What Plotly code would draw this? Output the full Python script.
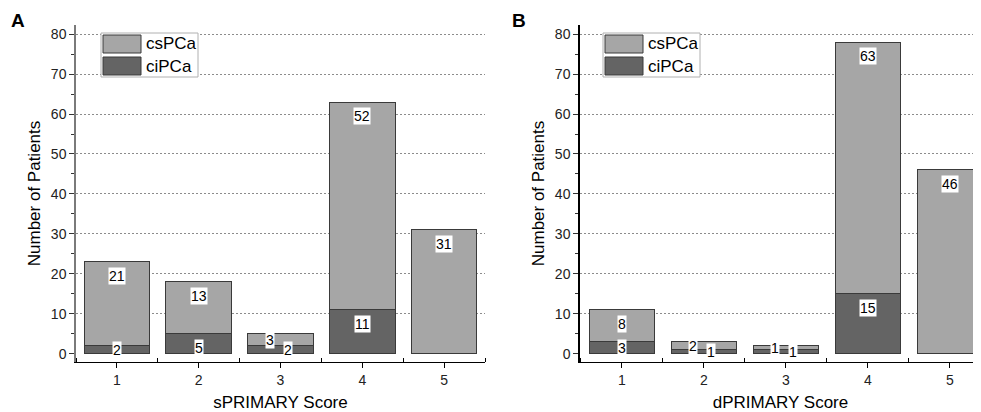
import plotly.graph_objects as go

# ---- data ----
scores = [1, 2, 3, 4, 5]
tick_labels = ["1", "2", "3", "4", "5"]
cs_A = [21, 13, 3, 52, 31]
ci_A = [2, 5, 2, 11, 0]
cs_B = [8, 2, 1, 63, 46]
ci_B = [3, 1, 1, 15, 0]
series_names = ["csPCa", "ciPCa"]
xtitles = ["sPRIMARY Score", "dPRIMARY Score"]
ytitle = "Number of Patients"
panel_letters = ["A", "B"]

# ---- style ----
OFF = 8  # page body margin
W, H = 981 - OFF, 412 - OFF
FONT = "Arial, Liberation Sans, sans-serif"
LIGHT = "#a6a6a6"
DARK = "#646464"
EDGE = "#3a3a3a"


def px(x):
    return (x - OFF) / W


def py(y):
    return 1 - (y - OFF) / H


fig = go.Figure()

panels = [
    (cs_A, ci_A, "x", "y"),
    (cs_B, ci_B, "x2", "y2"),
]

annotations = []
shapes = []

for cs, ci, xa, ya in panels:
    fig.add_trace(go.Bar(x=scores, y=ci, name=series_names[1], marker=dict(color=DARK, line=dict(color=EDGE, width=1)),
                         width=0.8, xaxis=xa, yaxis=ya, showlegend=False))
    fig.add_trace(go.Bar(x=scores, y=cs, name=series_names[0], marker=dict(color=LIGHT, line=dict(color=EDGE, width=1)),
                         width=0.8, xaxis=xa, yaxis=ya, showlegend=False))
    for xi, c_ci, c_cs in zip(scores, ci, cs):
        small_pair = c_cs <= 3
        if c_ci > 0:
            if c_ci <= 3:
                yv, anchor, ys = c_ci / 2, "middle", 0
            else:
                yv, anchor, ys = c_ci, "top", -5
            annotations.append(dict(x=xi, y=yv, xref=xa, yref=ya, text=str(c_ci), showarrow=False,
                                    yanchor=anchor, yshift=ys, xshift=7 if small_pair else 0,
                                    bgcolor="white", borderpad=0,
                                    font=dict(family=FONT, size=14, color="black")))
        if c_cs > 0:
            top = c_ci + c_cs
            if c_cs <= 3:
                yv, anchor, ys = c_ci + c_cs / 2, "middle", 0
            else:
                yv, anchor, ys = top, "top", -5
            annotations.append(dict(x=xi, y=yv, xref=xa, yref=ya, text=str(c_cs), showarrow=False,
                                    yanchor=anchor, yshift=ys, xshift=-11 if small_pair else 0,
                                    bgcolor="white", borderpad=0,
                                    font=dict(family=FONT, size=14, color="black")))

# manual legends + panel letters
for i, (bx, letter_x) in enumerate([(101, 18), (603, 519)]):
    shapes.append(dict(type="rect", xref="paper", yref="paper", x0=px(bx), x1=px(bx + 97), y0=py(77), y1=py(33),
                       fillcolor="white", line=dict(color="#b0b0b0", width=1), layer="above"))
    for j, (col, name, y0, y1) in enumerate([(LIGHT, series_names[0], 35, 53), (DARK, series_names[1], 57, 75)]):
        shapes.append(dict(type="rect", xref="paper", yref="paper", x0=px(bx + 2), x1=px(bx + 40),
                           y0=py(y1), y1=py(y0), fillcolor=col, line=dict(color=EDGE, width=1), layer="above"))
        annotations.append(dict(x=px(bx + 43), y=py((y0 + y1) / 2), xref="paper", yref="paper", text=name,
                                showarrow=False, xanchor="left", yanchor="middle",
                                font=dict(family=FONT, size=17, color="black")))
    annotations.append(dict(x=px(letter_x), y=py(20), xref="paper", yref="paper", text="<b>%s</b>" % panel_letters[i],
                            showarrow=False, xanchor="center", yanchor="middle",
                            font=dict(family=FONT, size=19, color="black")))

ydom = [py(362), py(25)]
common_y = dict(range=[-2.1, 82.3], domain=ydom, tickmode="linear", tick0=0, dtick=10,
                ticks="outside", ticklen=5, tickwidth=1, tickcolor="#333",
                minor=dict(tick0=0, dtick=5, ticks="outside", ticklen=3, tickcolor="#333"),
                showgrid=True, gridcolor="#8c8c8c", griddash="2px,2px", gridwidth=1,
                zeroline=True, zerolinecolor="white", zerolinewidth=1,
                showline=True, linewidth=1.5,
                tickfont=dict(family=FONT, size=14, color="#222"),
                title=dict(text=ytitle, font=dict(family=FONT, size=17, color="black"), standoff=6),
                automargin=False, fixedrange=True)
common_x = dict(tickmode="array", tickvals=scores, ticktext=tick_labels,
                ticks="outside", ticklen=5, tickwidth=1, tickcolor="black",
                minor=dict(tick0=0.5, dtick=1, ticks="inside", ticklen=4, tickcolor="black"),
                showgrid=False, zeroline=False, showline=True, linecolor="black", linewidth=1,
                tickfont=dict(family=FONT, size=14, color="#222"),
                automargin=False, fixedrange=True)

fig.update_layout(
    width=W, height=H, margin=dict(l=0, r=0, t=0, b=0),
    paper_bgcolor="white", plot_bgcolor="white",
    barmode="stack", showlegend=False,
    font=dict(family=FONT),
    xaxis=dict(common_x, domain=[px(76), px(485)], range=[0.5, 5.5], anchor="y",
               title=dict(text=xtitles[0], font=dict(family=FONT, size=17, color="black"), standoff=10)),
    yaxis=dict(common_y, anchor="x", linecolor="#7a7a7a"),
    xaxis2=dict(common_x, domain=[px(580), 1.0], range=[0.49, 5.38], anchor="y2",
                title=dict(text=xtitles[1], font=dict(family=FONT, size=17, color="black"), standoff=10)),
    yaxis2=dict(common_y, anchor="x2", linecolor="black"),
    annotations=annotations,
    shapes=shapes,
)

fig.write_html("out.html")
